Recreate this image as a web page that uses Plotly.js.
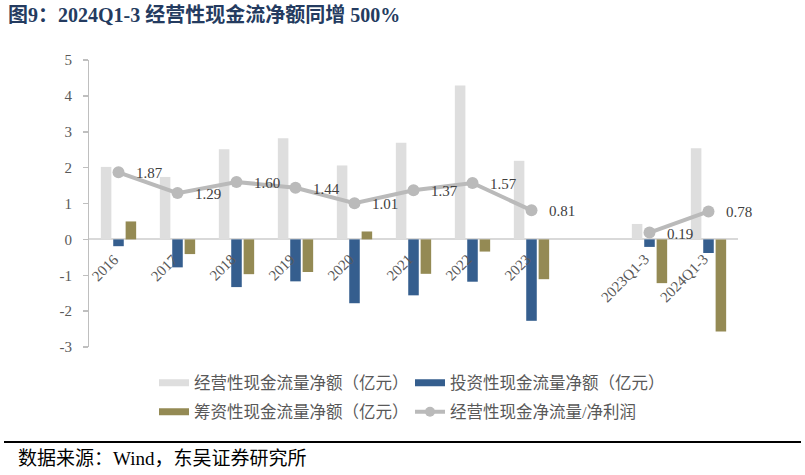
<!DOCTYPE html>
<html>
<head>
<meta charset="utf-8">
<script src="https://cdn.plot.ly/plotly-3.0.1.min.js"></script>
<style>html,body{margin:0;padding:0;background:#fff;}#chart{width:805px;height:475px;}</style>
</head>
<body>
<div id="chart"></div>
<script>
var categories = ["2016","2017","2018","2019","2020","2021","2022","2023"," ","2023Q1-3","2024Q1-3"];
var operatingCF = [2.02, 1.74, 2.51, 2.82, 2.06, 2.69, 4.29, 2.19, null, 0.43, 2.54];
var investingCF = [-0.19, -0.78, -1.33, -1.17, -1.78, -1.56, -1.18, -2.27, null, -0.21, -0.38];
var financingCF = [0.50, -0.41, -0.97, -0.91, 0.22, -0.96, -0.34, -1.11, null, -1.22, -2.57];
var cfToProfit = [1.87, 1.29, 1.60, 1.44, 1.01, 1.37, 1.57, 0.81, null, 0.19, 0.78];
var yTickVals = [-3, -2, -1, 0, 1, 2, 3, 4, 5];
var yTickText = ["-3", "-2", "-1", "0", "1", "2", "3", "4", "5"];
var seriesNames = ["经营性现金流量净额（亿元）","投资性现金流量净额（亿元）","筹资性现金流量净额（亿元）","经营性现金净流量/净利润"];
var titleText = "图9：2024Q1-3 经营性现金流净额同增 500%";
var sourceText = "数据来源：Wind，东吴证券研究所";

var colors = ["#DEDEDE", "#355E8E", "#948A54", "#BABABA"];
var serif = "Liberation Serif, Noto Sans CJK SC, serif";
var cjk = "Liberation Serif, Noto Sans CJK SC, sans-serif";

var L = 89, R = 67, T = 60, B = 128, W = 805, H = 475;
var pw = W - L - R, ph = H - T - B;
function px2x(p){ return (p - L) / pw; }
function py2y(p){ return (H - B - p) / ph; }

var traces = [];
[operatingCF, investingCF, financingCF].forEach(function(vals, i){
  traces.push({type:"bar", x:categories, y:vals, marker:{color:colors[i]}, showlegend:false, hoverinfo:"none"});
});
traces.push({type:"scatter", mode:"lines+markers", x:categories, y:cfToProfit, connectgaps:false,
  line:{color:colors[3], width:4}, marker:{color:colors[3], size:12}, showlegend:false, hoverinfo:"none"});

// legend entries
var legendIds = ["legend","legend2","legend3","legend4"];
for (var i = 0; i < 3; i++) {
  traces.push({type:"scatter", mode:"lines", x:[categories[8]], y:[null], name:seriesNames[i],
    line:{color:colors[i], width:7}, legend:legendIds[i], showlegend:true, hoverinfo:"none"});
}
traces.push({type:"scatter", mode:"lines+markers", x:[categories[8]], y:[null], name:seriesNames[3],
  line:{color:colors[3], width:4}, marker:{color:colors[3], size:10}, legend:legendIds[3], showlegend:true, hoverinfo:"none"});

var annotations = [];
// data labels of the ratio line
categories.forEach(function(c, i){
  if (cfToProfit[i] === null) return;
  annotations.push({x:i, y:cfToProfit[i], xref:"x", yref:"y", text:cfToProfit[i].toFixed(2),
    showarrow:false, xanchor:"left", yanchor:"middle", xshift:15, yshift:-1,
    font:{family:serif, size:15, color:"#404040"}});
});
// category labels hanging from the zero line (drawn above the bars)
categories.forEach(function(c, i){
  if (c.trim() === "") return;
  annotations.push({x:i, y:0, xref:"x", yref:"y", text:c, textangle:-45,
    showarrow:false, xanchor:"right", yanchor:"top", xshift:6, yshift:-9,
    font:{family:serif, size:15, color:"#595959"}});
});
annotations.push({xref:"paper", yref:"paper", x:px2x(16), y:py2y(458), xanchor:"left", yanchor:"middle",
  text:sourceText, showarrow:false, font:{family:cjk, size:19, color:"#000000"}});

function legendAt(xp, yp){
  return {orientation:"h", x:px2x(xp), y:py2y(yp), xanchor:"left", yanchor:"middle",
    bgcolor:"rgba(0,0,0,0)", font:{family:cjk, size:16.5, color:"#595959"}};
}

var layout = {
  width:W, height:H,
  margin:{l:L, r:R, t:T, b:B},
  paper_bgcolor:"#ffffff", plot_bgcolor:"#ffffff",
  barmode:"group", bargap:0.37, bargroupgap:0.15,
  title:{text:"<b>"+titleText+"</b>", xref:"container", yref:"container", x:8/W, y:1-15/H,
    xanchor:"left", yanchor:"middle", font:{family:cjk, size:20, color:"#243B60"}},
  xaxis:{type:"category", categoryorder:"array", categoryarray:categories, range:[-0.5, categories.length-0.5],
    anchor:"y", showline:false, ticks:"", showticklabels:false,
    showgrid:false, zeroline:false, fixedrange:true},
  yaxis:{range:[-3,5], tickmode:"array", tickvals:yTickVals, ticktext:yTickText.map(function(t){return t+"\u00a0\u00a0";}),
    domain:[0,1], showline:true, linecolor:"#BFBFBF", linewidth:1.5,
    ticks:"outside", ticklen:5, tickcolor:"#BFBFBF", tickwidth:1.5,
    tickfont:{family:serif, size:15, color:"#595959"}, showgrid:false,
    zeroline:true, zerolinecolor:"#D9D9D9", zerolinewidth:2, fixedrange:true},
  legend:legendAt(154, 383),
  legend2:legendAt(410, 383),
  legend3:legendAt(154, 412),
  legend4:legendAt(410, 412),
  annotations:annotations,
  shapes:[{type:"line", xref:"paper", yref:"paper", x0:px2x(4), x1:px2x(801), y0:py2y(442), y1:py2y(442),
    line:{color:"#000000", width:2}}]
};

Plotly.newPlot("chart", traces, layout, {displayModeBar:false, staticPlot:true});
</script>
</body>
</html>
